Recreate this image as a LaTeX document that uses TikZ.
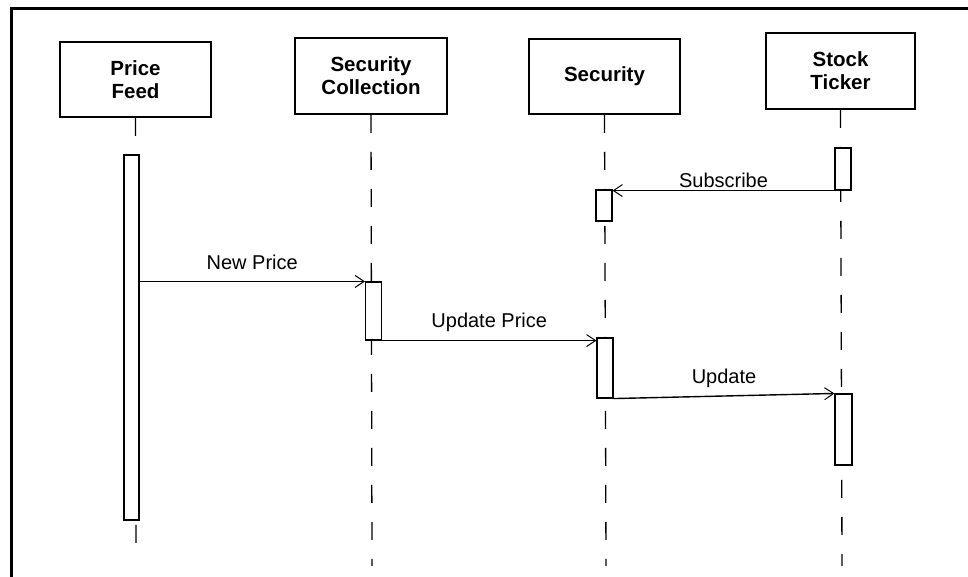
\documentclass[tikz,border=0pt]{standalone}
\usepackage{fontspec}
\setmainfont{Liberation Sans}
\usetikzlibrary{arrows.meta}
\begin{document}
\begin{tikzpicture}[x=1pt,y=-1pt,
  objbox/.style={draw,line width=1.6pt,align=center,inner sep=0pt,
    font=\bfseries\fontsize{20.5}{23}\selectfont},
  actbox/.style={draw,fill=white,line width=1.1pt,inner sep=0pt},
  lifeline/.style={line width=1.3pt,dash pattern=on 18pt off 19pt},
  msg/.style={line width=1.4pt,-{Straight Barb[length=9pt,width=12pt,line width=1pt]}},
  msglabel/.style={font=\fontsize{20}{24}\selectfont,inner sep=2pt}]
\useasboundingbox (0,0) rectangle (968,576);
\draw[line width=3pt] (11,578) -- (11,8) -- (970,8);
% objects
\node[objbox,minimum width=151pt,minimum height=75pt] (pf) at (135.5,79.5) {Price\\Feed};
\node[objbox,minimum width=152pt,minimum height=76pt] (sc) at (371,76) {Security\\Collection};
\node[objbox,minimum width=151pt,minimum height=75pt] (sec) at (604.5,76.5) {Security};
\node[objbox,minimum width=149pt,minimum height=76pt] (st) at (840.5,71) {Stock\\Ticker};
% lifeline ends
\coordinate (pfend) at (136,546);
\coordinate (scend) at (372,566);
\coordinate (secend) at (606,566);
\coordinate (stend) at (842,566);
\draw[lifeline] (pf.south) -- (pfend);
\draw[lifeline] (sc.south) -- (scend);
\draw[lifeline] (sec.south) -- (secend);
\draw[lifeline] (st.south) -- (stend);
% activations
\node[actbox,minimum width=15pt,minimum height=365pt] (pfact) at (131.5,337.5) {};
\node[actbox,minimum width=16pt,minimum height=58pt] (scact) at (373.5,311) {};
\node[actbox,minimum width=16pt,minimum height=31pt] (secact1) at (604,205.5) {};
\node[actbox,minimum width=16pt,minimum height=60pt] (secact2) at (605,368) {};
\node[actbox,minimum width=16pt,minimum height=42pt] (stact1) at (843,169) {};
\node[actbox,minimum width=17pt,minimum height=71pt] (stact2) at (843.5,429.5) {};
% messages
\draw[msg] (pfact.east |- scact.north) -- (scact.north west)
  node[msglabel,midway,above=9pt] (l1) {New Price};
\draw[msg] (scact.south east) -- (scact.south east -| secact2.west)
  node[msglabel,midway,above=6pt] (l2) {Update Price};
\draw[msg] (secact2.south east) -- (stact2.north west)
  node[msglabel,midway,above=6pt] (l3) {Update};
\draw[msg] (stact1.south west) -- (stact1.south west -| secact1.east)
  node[msglabel,midway,above=0pt] (l4) {Subscribe};
\end{tikzpicture}
\end{document}
